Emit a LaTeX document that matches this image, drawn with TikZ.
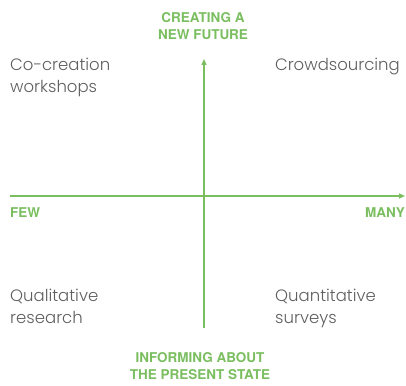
\documentclass[tikz,border=0pt]{standalone}
\usepackage{fontspec}
\setmainfont{Poppins Light}
\newfontfamily\labelfont{TeX Gyre Heros}
\usetikzlibrary{arrows.meta}
\definecolor{axisgreen}{RGB}{122,190,96}
\definecolor{quadgray}{RGB}{95,95,95}
\tikzset{
  axis/.style={draw=axisgreen, line width=1.4pt, -{Triangle[length=6pt,width=5pt]}},
  axislabel/.style={text=axisgreen, font=\labelfont\bfseries\fontsize{13.5}{16.5}\selectfont, align=center, inner sep=0pt},
  quadrant/.style={text=quadgray, font=\fontsize{16.5}{22}\selectfont, align=left, inner sep=0pt},
}
\begin{document}
\begin{tikzpicture}[x=1pt,y=-1pt]
  \useasboundingbox (0,0) rectangle (406,385);
  % axis end points
  \coordinate (left) at (10,196);
  \coordinate (right) at (405,196);
  \coordinate (bottom) at (204,328);
  \coordinate (top) at (204,59);
  \draw[axis] (left) -- (right);
  \draw[axis] (bottom) -- (top);
  % axis labels
  \node[axislabel, anchor=north] (future) at (203,12.5) {CREATING A\\NEW FUTURE};
  \node[axislabel, anchor=north] (present) at (200,352.5) {INFORMING ABOUT\\THE PRESENT STATE};
  \node[axislabel, anchor=north west] (few) at (10,207.5) {FEW};
  \node[axislabel, anchor=north east] (many) at (405,207.5) {MANY};
  % quadrant texts
  \node[quadrant, anchor=north west] (cocreation) at (10,57.5) {Co-creation\\workshops};
  \node[quadrant, anchor=north east] (crowd) at (400,57.5) {Crowdsourcing};
  \node[quadrant, anchor=north west] (quali) at (10,288.5) {Qualitative\\research};
  \node[quadrant, anchor=north west] (quanti) at (275,288.5) {Quantitative\\surveys};
\end{tikzpicture}
\end{document}
